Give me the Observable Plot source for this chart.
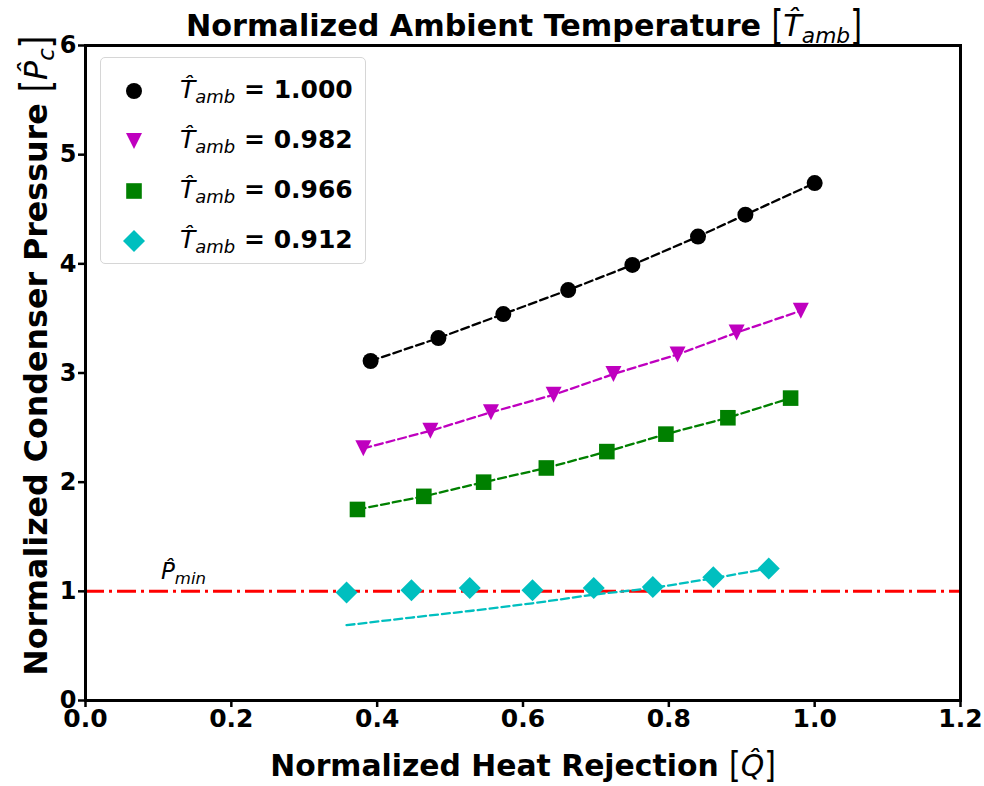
<!DOCTYPE html>
<html><head><meta charset="utf-8">
<script src="https://cdn.jsdelivr.net/npm/d3@7"></script>
<script src="https://cdn.jsdelivr.net/npm/@observablehq/plot@0.6"></script>
<style>
body{margin:0;background:#fff;}
#wrap{position:relative;width:984px;height:786px;font-family:"DejaVu Sans",sans-serif;color:#000;}
.ov{position:absolute;white-space:nowrap;line-height:1;}
.b{font-weight:bold;}
.m{font-style:italic;font-weight:normal;}
.m sub{font-size:0.72em;vertical-align:-0.3em;line-height:0;}
.br{font-weight:normal;font-style:normal;display:inline-block;transform:scaleY(1.35);font-family:"DejaVu Sans";line-height:1;}
.br2{font-weight:normal;font-style:normal;display:inline-block;transform:scaleY(1.2) translateY(-1px);font-family:"DejaVu Sans";line-height:1;}
#legend{position:absolute;border:1px solid #d6d6d6;border-radius:5px;background:rgba(255,255,255,0.85);}
.ltxt{position:absolute;font-size:25px;font-weight:bold;white-space:nowrap;line-height:1;}
</style></head><body><div id="wrap"></div>
<script>
const seriesNames = ["1.000", "0.982", "0.966", "0.912"];
const qBlack   = [0.391, 0.484, 0.573, 0.662, 0.750, 0.840, 0.905, 1.000];
const pBlack   = [3.11, 3.32, 3.54, 3.76, 3.99, 4.25, 4.45, 4.74];
const qMagenta = [0.381, 0.473, 0.556, 0.642, 0.724, 0.812, 0.893, 0.981];
const pMagenta = [2.31, 2.47, 2.64, 2.80, 2.99, 3.17, 3.37, 3.57];
const qGreen   = [0.373, 0.464, 0.546, 0.632, 0.715, 0.796, 0.881, 0.967];
const pGreen   = [1.75, 1.87, 2.00, 2.13, 2.28, 2.44, 2.59, 2.77];
const qCyan    = [0.358, 0.447, 0.527, 0.613, 0.697, 0.778, 0.861, 0.937];
const pCyan    = [0.99, 1.01, 1.03, 1.01, 1.03, 1.04, 1.13, 1.21];
const pCyanFit = [0.69, 0.76, 0.82, 0.89, 0.97, 1.03, 1.12, 1.21];
const pMin = 1;
const pMinLabelPos = [0.1, 1.1];
const xTicks = [0, 0.2, 0.4, 0.6, 0.8, 1.0, 1.2];
const yTicks = [0, 1, 2, 3, 4, 5, 6];

const symCircle = {draw(c, s) { const r = Math.sqrt(s / Math.PI); c.moveTo(r, 0); c.arc(0, 0, r, 0, 2 * Math.PI); }};
const symTriDown = {draw(c, s) { const r = Math.sqrt(s / Math.PI); c.moveTo(-r, -r); c.lineTo(r, -r); c.lineTo(0, r); c.closePath(); }};
const symSquare = {draw(c, s) { const r = Math.sqrt(s / Math.PI); c.rect(-r, -r, 2 * r, 2 * r); }};
const symDiamond = {draw(c, s) { const r = Math.sqrt(s / Math.PI); c.moveTo(0, -r); c.lineTo(r, 0); c.lineTo(0, r); c.lineTo(-r, 0); c.closePath(); }};

const series = [
  {name: seriesNames[0], q: qBlack, p: pBlack, line: pBlack, color: "#000000", sym: symCircle, r: 8},
  {name: seriesNames[1], q: qMagenta, p: pMagenta, line: pMagenta, color: "#bf00bf", sym: symTriDown, r: 8},
  {name: seriesNames[2], q: qGreen, p: pGreen, line: pGreen, color: "#008000", sym: symSquare, r: 7.8},
  {name: seriesNames[3], q: qCyan, p: pCyan, line: pCyanFit, color: "#00bfbf", sym: symDiamond, r: 11}
];

const marks = [
  Plot.ruleY([pMin], {stroke: "red", strokeWidth: 3, strokeDasharray: "19,5,3,5"})
];
for (const s of series) {
  const pts = s.q.map((q, i) => ({q, fit: s.line[i]}));
  marks.push(Plot.line(pts, {x: "q", y: "fit", stroke: s.color, strokeWidth: 2.3, strokeDasharray: "8,4"}));
}
for (const s of series) {
  const pts = s.q.map((q, i) => ({q, p: s.p[i]}));
  marks.push(Plot.dot(pts, {x: "q", y: "p", fill: s.color, stroke: "none", symbol: s.sym, r: s.r}));
}
marks.push(
  Plot.frame({stroke: "black", strokeWidth: 3}),
  Plot.axisX({ticks: xTicks, tickFormat: d3.format(".1f"), tickSize: 7, strokeWidth: 2.5, tickPadding: 2, fontSize: 25, fontWeight: "bold", label: null}),
  Plot.axisY({ticks: yTicks, tickFormat: d3.format("d"), tickSize: 7, strokeWidth: 2.5, tickPadding: 2, fontSize: 24, fontWeight: "bold", label: null})
);

const plot = Plot.plot({
  width: 984, height: 786,
  marginLeft: 85, marginRight: 24, marginTop: 45, marginBottom: 86,
  x: {domain: [0, 1.2]}, y: {domain: [0, 6]},
  style: {background: "white", fontFamily: "DejaVu Sans", color: "black", overflow: "visible"},
  marks
});
const wrap = document.getElementById("wrap");
wrap.appendChild(plot);

const X = plot.scale("x"), Y = plot.scale("y");
const hatT = '<span class="m">T\u0302<sub>amb</sub></span>';
function add(html, cls) {
  const d = document.createElement("div");
  d.className = "ov " + (cls || "");
  d.innerHTML = html;
  wrap.appendChild(d);
  return d;
}
function fitLabel(d, length, base) {
  d.style.fontSize = base + "px";
  const w = d.offsetWidth;
  const fs = base * length / w;
  d.style.fontSize = fs + "px";
  return fs;
}
// title
const title = add('Normalized Ambient Temperature <span class="br">[</span>' + hatT + '<span class="br">]</span>', "b");
let fs = fitLabel(title, 676, 30);
Object.assign(title.style, {left: "524px", top: (37 - 0.846 * fs) + "px", transform: "translateX(-50%)"});
// x label
const xl = add('Normalized Heat Rejection <span class="br2">[</span><span class="m">Q\u0302</span><span class="br2">]</span>', "b");
fs = fitLabel(xl, 506, 30);
Object.assign(xl.style, {left: "523px", top: (776 - 0.846 * fs) + "px", transform: "translateX(-50%)"});
// y label (rotated)
const yl = add('Normalized Condenser Pressure <span class="br">[</span><span class="m">P\u0302<sub>c</sub></span><span class="br">]</span>', "b");
fs = fitLabel(yl, 640, 30);
(function () {
  const w = yl.offsetWidth, h = yl.offsetHeight;
  const cx = 48 - 0.846 * fs + h / 2;
  const cy = 356;
  Object.assign(yl.style, {left: (cx - w / 2) + "px", top: (cy - h / 2) + "px", transform: "rotate(-90deg)", transformOrigin: "50% 50%"});
})();
// Pmin label
const pm = add('<span class="m">P\u0302<sub>min</sub></span>');
pm.style.fontSize = "23px";
Object.assign(pm.style, {left: (X.apply(pMinLabelPos[0]) + 3) + "px", top: (Y.apply(pMinLabelPos[1]) - 0.846 * 23) + "px"});

// legend
const lg = document.createElement("div");
lg.id = "legend";
Object.assign(lg.style, {left: "100px", top: "57px", width: "264px", height: "205px"});
wrap.appendChild(lg);
series.forEach((s, i) => {
  const cy = 33 + i * 50;
  const svg = d3.create("svg").attr("width", 30).attr("height", 30)
    .style("left", "18px").style("top", (cy - 15) + "px").style("position", "absolute");
  svg.append("path").attr("transform", "translate(15,15)")
    .attr("d", d3.symbol(s.sym, Math.PI * s.r * s.r)()).attr("fill", s.color);
  lg.appendChild(svg.node());
  const t = document.createElement("div");
  t.className = "ltxt";
  t.innerHTML = hatT + " = " + s.name;
  Object.assign(t.style, {left: "79px", top: (cy - 14) + "px"});
  lg.appendChild(t);
});
</script></body></html>
